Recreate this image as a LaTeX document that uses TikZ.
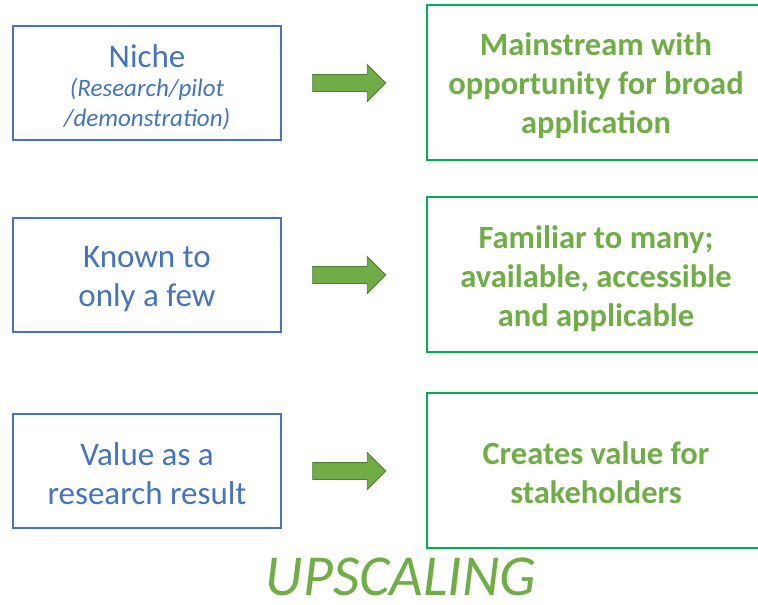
\documentclass[tikz,border=0pt]{standalone}
\usepackage{fontspec}
\setmainfont{Carlito}
\usetikzlibrary{shapes.arrows}
\definecolor{txtblue}{HTML}{4472C4}
\definecolor{txtgreen}{HTML}{70AD47}
\definecolor{boxgreen}{HTML}{00B050}
\definecolor{arrowdark}{HTML}{507E32}
\begin{document}
\begin{tikzpicture}[x=1pt,y=-1pt,
  leftbox/.style={draw=txtblue, line width=1.5pt, minimum width=268pt, minimum height=114pt, inner sep=0pt},
  rightbox/.style={draw=boxgreen, line width=1.5pt, minimum width=338pt, minimum height=155pt, inner sep=0pt},
  bluetext/.style={inner sep=0pt, align=center, text=txtblue, font=\fontsize{33}{39}\selectfont},
  greentext/.style={inner sep=0pt, align=center, text=txtgreen, font=\fontsize{32.5}{39}\selectfont\bfseries},
  blockarrow/.style={single arrow, draw=arrowdark, fill=txtgreen, line width=0.8pt,
    minimum height=73pt, minimum width=36pt, single arrow head extend=10pt,
    single arrow head indent=0pt, inner xsep=0pt, inner ysep=8pt}]
\useasboundingbox (0,0) rectangle (758,605);
\clip (0,0) rectangle (758,605);
\node[leftbox] (l1) at (147,83) {};
\node[leftbox] (l2) at (147,275) {};
\node[leftbox] (l3) at (147,471) {};
\node[bluetext] (lt1) at (147,56) {Niche};
\node[bluetext, font=\fontsize{25}{30}\selectfont\itshape] (lt1b) at (147,104) {(Research/pilot\\/demonstration)};
\node[bluetext] (lt2) at (147,279) {Known to\\only a few};
\node[bluetext] (lt3) at (147,473.5) {Value as a\\research result};
\node[rightbox] (r1) at (596,82.5) {};
\node[rightbox] (r2) at (596,274.5) {};
\node[rightbox] (r3) at (596,470.5) {};
\node[greentext] (rt1) at (596,86) {Mainstream with\\opportunity for broad\\application};
\node[greentext] (rt2) at (596,279) {Familiar to many;\\available, accessible\\and applicable};
\node[greentext] (rt3) at (596,472.5) {Creates value for\\stakeholders};
\node[blockarrow] (a1) at (345,83) {};
\node[blockarrow] (a2) at (345,275) {};
\node[blockarrow] (a3) at (345,471) {};
\node[text=txtgreen, font=\fontsize{58}{60}\selectfont\itshape, inner sep=0pt] (up) at (401,577) {UPSCALING};
\end{tikzpicture}
\end{document}
